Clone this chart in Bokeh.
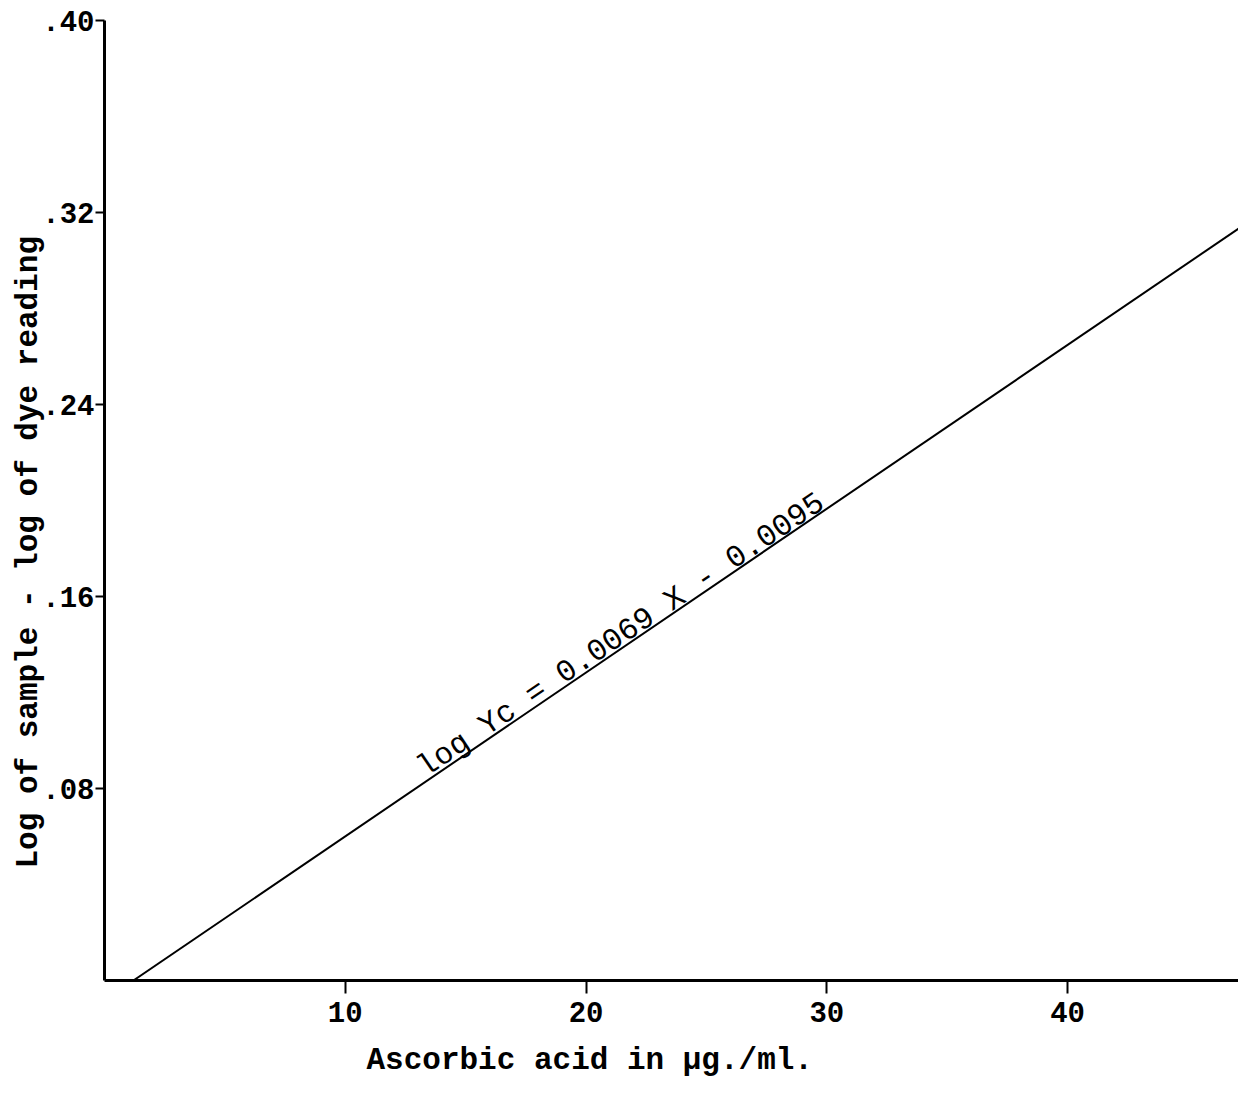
from bokeh.plotting import figure
from bokeh.models import Range1d, FixedTicker, Label, LinearAxis, Title
from bokeh.embed import file_html
from bokeh.resources import INLINE

# ---- data ----
line_x = [1.2, 47.5]          # ascorbic acid, µg/ml
line_y = [0.0, 0.316]         # log sample - log dye reading
x_ticks = [10, 20, 30, 40]
x_tick_labels = ["10", "20", "30", "40"]
y_ticks = [0.08, 0.16, 0.24, 0.32, 0.40]
y_tick_labels = [".08", ".16", ".24", ".32", ".40"]
equation_text = "log Yc = 0.0069 X - 0.0095"
x_title = "Ascorbic acid in µg./ml."
y_title = "Log of sample - log of dye reading"

FONT = "Liberation Mono"

p = figure(width=1238, height=1102, output_backend="svg", toolbar_location=None,
           x_range=Range1d(0, 47.1), y_range=Range1d(0, 0.40),
           x_axis_location=None, y_axis_location=None,
           min_border_left=104, min_border_right=0, min_border_top=20, min_border_bottom=122)
p.outline_line_color = None
p.xgrid.visible = False
p.ygrid.visible = False
p.background_fill_color = "white"
p.border_fill_color = "white"

xa = LinearAxis(ticker=FixedTicker(ticks=x_ticks),
                major_label_overrides=dict(zip(x_ticks, x_tick_labels)))
ya = LinearAxis(ticker=FixedTicker(ticks=y_ticks),
                major_label_overrides=dict(zip(y_ticks, y_tick_labels)))
for ax in (xa, ya):
    ax.axis_line_width = 3
    ax.axis_line_color = "black"
    ax.major_tick_line_width = 2
    ax.major_tick_line_color = "black"
    ax.minor_tick_line_color = None
    ax.major_tick_in = 0
    ax.major_label_text_font = FONT
    ax.major_label_text_font_size = "29px"
    ax.major_label_text_font_style = "bold"
    ax.major_label_text_color = "black"
xa.major_tick_out = 13
xa.major_label_standoff = 8
ya.major_tick_out = 9
ya.major_label_standoff = 1
p.add_layout(xa, "below")
p.add_layout(ya, "left")

p.line(line_x, line_y, line_width=2, color="black")

p.add_layout(Label(x=13.13, y=0.0875, text=equation_text, angle=34, angle_units="deg",
                   text_font=FONT, text_font_size="31px", text_align="left",
                   text_baseline="alphabetic", text_color="black"))

p.add_layout(Title(text=x_title, align="left", offset=262, standoff=36,
                   vertical_align="top",
                   text_font=FONT, text_font_size="31px", text_font_style="bold",
                   text_color="black"), "below")
p.add_layout(Title(text=y_title, align="left", offset=112, standoff=-13,
                   text_font=FONT, text_font_size="31px", text_font_style="bold",
                   text_color="black"), "left")

open("out.html", "w").write(file_html(p, INLINE))
